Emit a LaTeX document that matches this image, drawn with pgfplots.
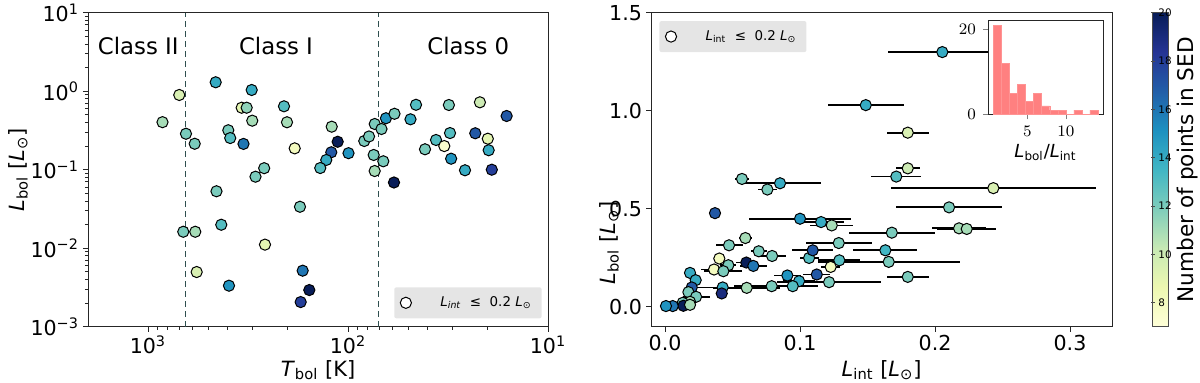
\documentclass[border=0pt]{standalone}
\usepackage{pgfplots}
\usepackage{pgfplotstable}
\pgfplotsset{compat=1.18}
\usepackage{fontspec}
\setmainfont{DejaVu Sans}
\pgfplotsset{
  colormap={ylgnbu}{rgb255=(255,255,217) rgb255=(237,248,177) rgb255=(199,233,180) rgb255=(127,205,187) rgb255=(65,182,196) rgb255=(29,145,192) rgb255=(34,94,168) rgb255=(37,52,148) rgb255=(8,29,88)},
}
\definecolor{dashc}{RGB}{47,79,79}
\definecolor{histc}{RGB}{255,128,128}
\definecolor{leggray}{RGB}{229,229,229}
\newcommand{\tickfont}{\fontsize{10.3}{12}\selectfont}
\newcommand{\labfont}{\fontsize{10.5}{12}\selectfont}
\newcommand{\Lsun}{\textit{L}\textsubscript{⊙}}

\pgfplotstableread{
T L c
458.6 1.299 14
697.5 0.895 9.5
340 0.616 9
321 0.616 11.5
846 0.403 11
645.7 0.287 12
584 0.214 12
396.7 0.318 12
388 0.253 13
333 0.213 16
454.4 0.0531 12
430 0.0199 13
666 0.0162 12
580 0.0162 11
570.8 0.00497 9.5
393.6 0.00333 15
303 1.036 14
301 0.421 11
208.9 0.642 13
201.8 0.402 11
184.7 0.187 8
262.4 0.1045 12
290 0.0814 12
120.6 0.353 11
112.6 0.227 20
121.2 0.1666 17
128.4 0.133 14
137.6 0.105 13
99.4 0.1623 15
173.8 0.0337 12
260 0.0111 9
168.5 0.00517 16
156.1 0.00293 20
172.4 0.00206 18
82.9 0.232 12
78.5 0.265 12
73.5 0.382 12
68.0 0.330 12
64.6 0.452 15
58.55 0.5155 12
74.4 0.154 12
66.6 0.128 12
73.55 0.0962 11
58.9 0.0687 20
45.7 0.671 13
48.7 0.4385 14
31.3 0.667 12
21.9 0.722 10
16.1 0.483 17
30.9 0.293 13
36.3 0.239 13
33.0 0.200 7.5
41.2 0.182 12
23.1 0.291 17
20.0 0.248 9
19.8 0.177 14
30.5 0.138 15
26.0 0.0983 14
19.1 0.100 18
}\ldata

\pgfplotstableread{
li lb e c
0.2054 1.299 0.040 14
0.1487 1.0285 0.028 14
0.1798 0.888 0.0155 9.5
0.1798 0.706 0.009 10
0.1713 0.664 0.0185 13
0.2432 0.605 0.076 9.5
0.2104 0.507 0.039 12
0.2178 0.400 0.020 11
0.2235 0.397 0.022 11
0.1680 0.378 0.032 12
0.1287 0.325 0.0245 12
0.1632 0.288 0.0237 13.5
0.1657 0.229 0.0526 12
0.1291 0.237 0.0155 13
0.1798 0.1524 0.0155 12
0.1227 0.2033 0.007 8
0.1215 0.1255 0.0385 12
0.1124 0.1646 0.010 17
0.0993 0.1306 0.012 14
0.0946 0.105 0.019 13
0.0906 0.1596 0.010 15
0.0790 0.105 0.028 12
0.0605 0.0965 0.025 11
0.0427 0.0986 0.020 14
0.0420 0.068 0.004 19
0.1067 0.249 0.007 13
0.1094 0.288 0.015 17
0.1000 0.449 0.038 15
0.1156 0.432 0.017 14
0.1235 0.415 0.016 11
0.0852 0.630 0.030 14
0.0570 0.652 0.005 12
0.0758 0.598 0.007 12
0.0370 0.4776 0.003 17
0.0595 0.3506 0.005 11
0.0474 0.3135 0.010 12
0.0694 0.283 0.006 12
0.0793 0.259 0.010 12
0.0402 0.246 0.004 8
0.0602 0.2256 0.008 20
0.0654 0.2083 0.010 16
0.0469 0.2119 0.006 12
0.0363 0.190 0.010 8
0.0432 0.1814 0.014 12
0.0185 0.1728 0.003 14
0.0227 0.1357 0.003 14
0.0198 0.0986 0.003 17
0.0173 0.0747 0.003 12
0.0230 0.0508 0.010 12
0.0185 0.0254 0.003 11
0.0131 0.0203 0.003 12
0.0136 0.005 0.002 20
0.0057 0.0036 0.001 16
0.0007 0.0036 0.001 15
0.0185 0.010 0.002 11
}\rdata

\pgfplotsset{
  myscatter/.style={scatter, only marks, scatter src=explicit, mark=*, mark size=2.8pt,
     scatter/use mapped color={draw=black, fill=mapped color}, mark options={line width=0.5pt}},
  myaxis/.style={scale only axis, anchor=south west, tick pos=left, tick align=outside,
     axis line style={black!85}, every tick/.style={black!85},
     major tick length=2.5pt, minor tick length=1.5pt,
     tick label style={font=\tickfont, inner sep=1.8pt},
     colormap name=ylgnbu, point meta min=7, point meta max=20,
     legend cell align=left},
  mylegend/.style={fill=leggray, draw=none, font=\fontsize{6.7}{8}\selectfont,
     inner xsep=3pt, inner ysep=2.5pt, rounded corners=1pt},
  myleg/.style={only marks, mark=*, mark size=2.8pt, mark options={fill=white, draw=black, line width=0.5pt, xshift=4pt}},
}

\begin{document}
\begin{tikzpicture}
\path[use as bounding box] (0,0) rectangle (600pt,191.5pt);

% ---------------- left panel ----------------
\begin{axis}[myaxis,
  at={(44pt,28.15pt)}, width=230pt, height=157pt,
  xmode=log, ymode=log, x dir=reverse,
  xmin=10, xmax=1995, ymin=0.001, ymax=10,
  xtick={10,100,1000},
  xticklabels={10\textsuperscript{1},10\textsuperscript{2},10\textsuperscript{3}},
  ytick={0.001,0.01,0.1,1,10},
  yticklabels={10\textsuperscript{−3},10\textsuperscript{−2},10\textsuperscript{−1},10\textsuperscript{0},10\textsuperscript{1}},
  minor xtick={20,30,40,50,60,70,80,90,200,300,400,500,600,700,800,900},
  minor ytick={0.002,0.003,0.004,0.005,0.006,0.007,0.008,0.009,0.02,0.03,0.04,0.05,0.06,0.07,0.08,0.09,0.2,0.3,0.4,0.5,0.6,0.7,0.8,0.9,2,3,4,5,6,7,8,9},
  legend style={at={(0.987,0.0255)}, anchor=south east, mylegend},
]
\addlegendimage{myleg}
\addlegendentry{\hspace{12.5pt}\textit{L}\textsubscript{\textit{int}} \ ≤ \ 0.2 \Lsun\hspace{-3pt}}
\addplot[dashc, densely dashed, line width=0.5pt, forget plot] coordinates {(650,0.001) (650,10)};
\addplot[dashc, densely dashed, line width=0.5pt, forget plot] coordinates {(70,0.001) (70,10)};
\addplot[myscatter, forget plot] table[x=T, y=L, meta=c] \ldata;
\node[font=\fontsize{11.4}{13}\selectfont] at (rel axis cs:0.1093,0.8949) {Class II};
\node[font=\fontsize{11.4}{13}\selectfont] at (rel axis cs:0.4087,0.8949) {Class I};
\node[font=\fontsize{11.4}{13}\selectfont] at (rel axis cs:0.8268,0.8949) {Class 0};
\end{axis}

% ---------------- right panel ----------------
\begin{axis}[myaxis,
  at={(325.5pt,28.15pt)}, width=230.5pt, height=157pt,
  xmin=-0.0104, xmax=0.3311, ymin=-0.1016, ymax=1.5,
  xtick={0,0.1,0.2,0.3}, xticklabels={0.0,0.1,0.2,0.3},
  ytick={0,0.5,1,1.5}, yticklabels={0.0,0.5,1.0,1.5},
  legend style={at={(0.0174,0.9745)}, anchor=north west, mylegend},
  colorbar,
  colorbar style={
    at={(parent axis.north east)}, anchor=north west, xshift=11.5pt,
    width=8pt, scale only axis,
    ytick=\empty, yticklabels={},
    axis line style={black!70},
  },
]
\addlegendimage{myleg}
\addlegendentry{\hspace{12.5pt}\textit{L}\textsubscript{int} \ ≤ \ 0.2 \Lsun\hspace{-3pt}}
\addplot[only marks, mark=none, forget plot,
  error bars/.cd, x dir=both, x explicit, error mark=none,
  error bar style={line width=0.9pt, black}] table[x=li, y=lb, x error=e] \rdata;
\addplot[myscatter, forget plot] table[x=li, y=lb, meta=c] \rdata;
\end{axis}

% ---------------- inset histogram ----------------
\begin{axis}[scale only axis, anchor=south west,
  at={(494pt,134.35pt)}, width=57.5pt, height=46.8pt,
  axis background/.style={fill=white},
  xmin=-0.07, xmax=14.78, ymin=0, ymax=22.05,
  xtick={5,10}, ytick={0,20},
  tick pos=left, tick align=outside, major tick length=2.5pt,
  axis line style={black!85},
  tick label style={font=\fontsize{8}{9}\selectfont},
  xlabel={\textit{L}\textsubscript{bol}/\textit{L}\textsubscript{int}},
  xlabel style={font=\fontsize{9}{10}\selectfont, yshift=3pt},
]
\addplot[ybar interval, fill=histc, draw=histc!85!white, line width=0.2pt] coordinates {
(0.62,21) (1.66,12) (2.70,5) (3.74,7) (4.78,3) (5.82,5) (6.86,2) (7.90,1) (8.94,1) (9.98,0) (11.02,1) (12.06,0) (13.10,1) (14.14,1)};
\end{axis}

% ---------------- colorbar ticks and tick labels ----------------
\foreach \v/\yy in {8/40.23,10/64.38,12/88.54,14/112.69,16/136.84,18/161.0,20/185.15}{
  \draw[black!70, line width=0.4pt] (575.5pt,\yy pt) -- (577.5pt,\yy pt);
  \node[font=\fontsize{5.2}{6}\selectfont, anchor=west, inner sep=0pt] at (579pt,\yy pt) {\v};
}

% ---------------- axis labels ----------------
\node[font=\labfont, rotate=90, anchor=center] at (9pt,106.65pt) {\textit{L}\textsubscript{bol} [\Lsun]};
\node[font=\labfont, anchor=center] at (159pt,6.5pt) {\textit{T}\textsubscript{bol} [K]};
\node[font=\labfont, rotate=90, anchor=center] at (304.5pt,70pt) {\textit{L}\textsubscript{bol} [\Lsun]};
\node[font=\labfont, anchor=center] at (440.85pt,6.5pt) {\textit{L}\textsubscript{int} [\Lsun]};
\node[font=\fontsize{10.8}{12}\selectfont, rotate=90, anchor=center] at (594pt,106.65pt) {Number of points in SED};
\end{tikzpicture}
\end{document}
